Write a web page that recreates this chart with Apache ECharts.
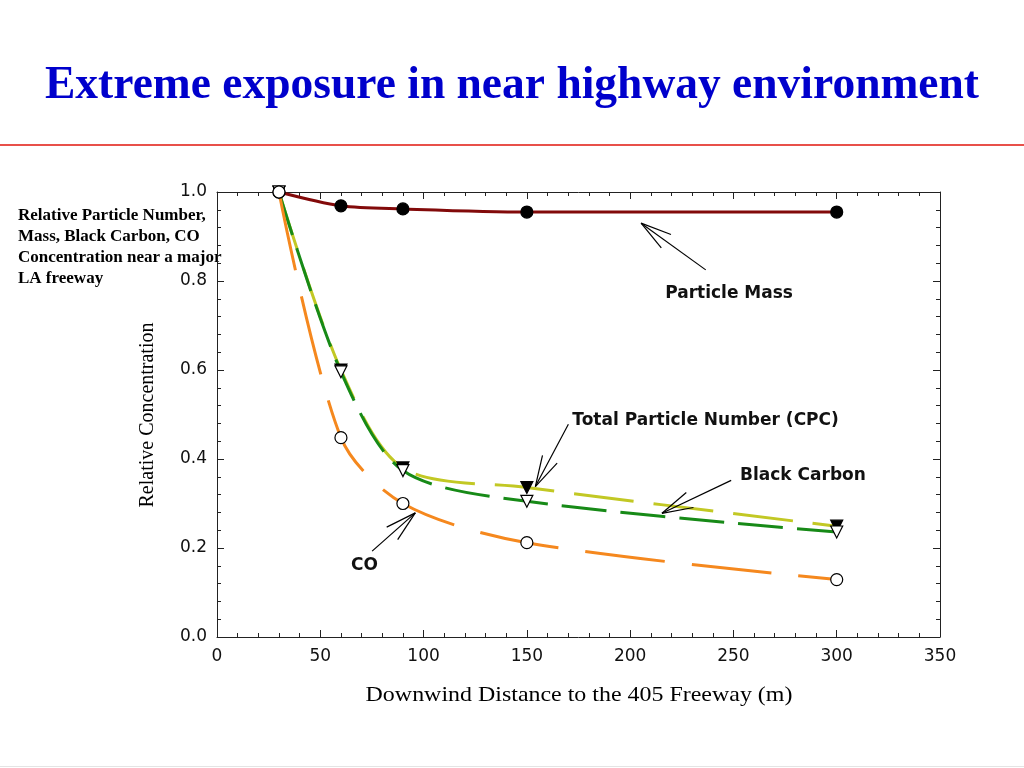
<!DOCTYPE html>
<html><head><meta charset="utf-8">
<script src="https://cdn.jsdelivr.net/npm/echarts@6/dist/echarts.min.js"></script>
<style>html,body{margin:0;padding:0;background:#fff}#c{width:1024px;height:768px}</style>
</head><body><div id="c"></div>
<script>
// ---- data ----
const distances = [30, 60, 90, 150, 300];
const particleMass = [1.0, 0.969, 0.962, 0.955, 0.955];
const particleNumber = [1.0, 0.6, 0.38, 0.336, 0.249];
const blackCarbon = [1.0, 0.596, 0.374, 0.305, 0.236];
const carbonMonoxide = [1.0, 0.448, 0.300, 0.212, 0.129];
const xTicks = [0, 50, 100, 150, 200, 250, 300, 350];
const yTicks = [0.0, 0.2, 0.4, 0.6, 0.8, 1.0];
// annotation arrows: [tailX, tailY, headX, headY]
const arrows = [
  [236.6, 0.825, 205.3, 0.930],
  [170.1, 0.478, 154.1, 0.338],
  [248.9, 0.352, 215.4, 0.278],
  [75.1, 0.193, 96.0, 0.279]
];
// annotation labels: [x, y, text, align]
const labels = [
  [247.9, 0.772, 'Particle Mass', 'center'],
  [172.0, 0.4865, 'Total Particle Number (CPC)', 'left'],
  [253.2, 0.363, 'Black Carbon', 'left'],
  [71.4, 0.161, 'CO', 'center']
];

const pair = arr => distances.map((d, i) => [d, arr[i]]);
const sans = "'DejaVu Sans', Verdana, sans-serif";
const serif = "'Liberation Serif', 'Times New Roman', Times, serif";

const chart = echarts.init(document.getElementById('c'), null, {renderer: 'canvas'});

function axisCommon(pos, showLabel, isX) {
  const t = isX ? xTicks : yTicks;
  return {
    type: 'value',
    position: pos,
    min: t[0],
    max: t[t.length - 1],
    interval: t[1] - t[0],
    axisLine: {show: true, onZero: false, lineStyle: {color: '#222', width: 1}},
    axisTick: {show: true, inside: true, length: 7, lineStyle: {color: '#222'}},
    minorTick: {show: true, splitNumber: 5, length: 4, lineStyle: {color: '#222'}},
    splitLine: {show: false},
    minorSplitLine: {show: false},
    axisLabel: {
      show: showLabel, fontFamily: sans, fontSize: 17, color: '#111',
      margin: isX ? 11 : 10,
      formatter: isX ? (v => String(v)) : (v => v.toFixed(1))
    }
  };
}

const lineSeries = (name, arr, color, dash, width, z) => ({
  name, type: 'line', data: pair(arr), smooth: 0.3,
  showSymbol: false, symbol: 'none', z,
  lineStyle: {color, width, type: dash},
  xAxisIndex: 0, yAxisIndex: 0, silent: true
});
const markerSeries = (name, arr, symbol, fill, rotate, z) => ({
  name: name + ' markers', type: 'scatter', data: pair(arr), symbol, symbolSize: 12,
  symbolRotate: rotate, z,
  itemStyle: {color: fill, borderColor: '#000', borderWidth: 1.2, opacity: 1},
  xAxisIndex: 0, yAxisIndex: 0, silent: true
});

chart.setOption({
  animation: false,
  backgroundColor: '#fff',
  grid: {left: 217, right: 84, top: 192, bottom: 131, containLabel: false},
  xAxis: [axisCommon('bottom', true, true), axisCommon('top', false, true)],
  yAxis: [axisCommon('left', true, false), axisCommon('right', false, false)],
  graphic: [
    {type: 'text', left: 'center', top: 63, style: {text: 'Extreme exposure in near highway environment',
      font: 'bold 45.5px ' + serif, fill: '#0000CC'}},
    {type: 'line', shape: {x1: 0, y1: 145, x2: 1024, y2: 145}, style: {stroke: '#E8504A', lineWidth: 2}},
    {type: 'line', shape: {x1: 0, y1: 766.5, x2: 1024, y2: 766.5}, style: {stroke: '#e4e4e4', lineWidth: 1}},
    {type: 'text', x: 18, y: 205, style: {
      text: 'Relative Particle Number,\nMass, Black Carbon, CO\nConcentration near a major\nLA freeway',
      font: 'bold 17px ' + serif, fill: '#000', lineHeight: 21}},
    {type: 'text', x: 148, y: 415, rotation: Math.PI / 2, style: {text: 'Relative Concentration',
      font: '20px ' + serif, fill: '#000', align: 'center', verticalAlign: 'middle'}},
    {type: 'text', x: 579, y: 695, scaleX: 1.14, style: {text: 'Downwind Distance to the 405 Freeway (m)',
      font: '21px ' + serif, fill: '#000', align: 'center', verticalAlign: 'middle'}}
  ],
  series: [
    lineSeries('Total Particle Number (CPC)', particleNumber, '#C2C824', [60, 20], 3, 2),
    lineSeries('Black Carbon', blackCarbon, '#178A17', [45, 14], 3, 3),
    lineSeries('CO', carbonMonoxide, '#F5881E', [80, 27], 3, 3),
    lineSeries('Particle Mass', particleMass, '#820A0A', 'solid', 3, 3),
    markerSeries('Particle Mass', particleMass, 'circle', '#000', 0, 10),
    markerSeries('Total Particle Number (CPC)', particleNumber, 'triangle', '#000', 180, 10),
    markerSeries('Black Carbon', blackCarbon, 'triangle', '#fff', 180, 11),
    markerSeries('CO', carbonMonoxide, 'circle', '#fff', 0, 11),
    {
      type: 'custom', name: 'arrows', data: arrows, z: 12, silent: true,
      encode: {x: [0, 2], y: [1, 3]},
      renderItem: (params, api) => {
        const t = api.coord([api.value(0), api.value(1)]);
        const h = api.coord([api.value(2), api.value(3)]);
        const ang = Math.atan2(t[1] - h[1], t[0] - h[0]);
        const L = 32, a = 15 * Math.PI / 180;
        const p1 = [h[0] + L * Math.cos(ang + a), h[1] + L * Math.sin(ang + a)];
        const p2 = [h[0] + L * Math.cos(ang - a), h[1] + L * Math.sin(ang - a)];
        const st = {stroke: '#000', lineWidth: 1.2};
        return {type: 'group', children: [
          {type: 'line', shape: {x1: t[0], y1: t[1], x2: h[0], y2: h[1]}, style: st},
          {type: 'line', shape: {x1: h[0], y1: h[1], x2: p1[0], y2: p1[1]}, style: st},
          {type: 'line', shape: {x1: h[0], y1: h[1], x2: p2[0], y2: p2[1]}, style: st}
        ]};
      }
    },
    {
      type: 'custom', name: 'labels', data: labels.map(l => [l[0], l[1]]), z: 12, silent: true,
      encode: {x: 0, y: 1},
      renderItem: (params, api) => {
        const p = api.coord([api.value(0), api.value(1)]);
        const l = labels[params.dataIndex];
        return {type: 'text', x: p[0], y: p[1], style: {text: l[2], font: 'bold 17px ' + sans,
          fill: '#111', align: l[3], verticalAlign: 'middle'}};
      }
    }
  ]
});
</script></body></html>
